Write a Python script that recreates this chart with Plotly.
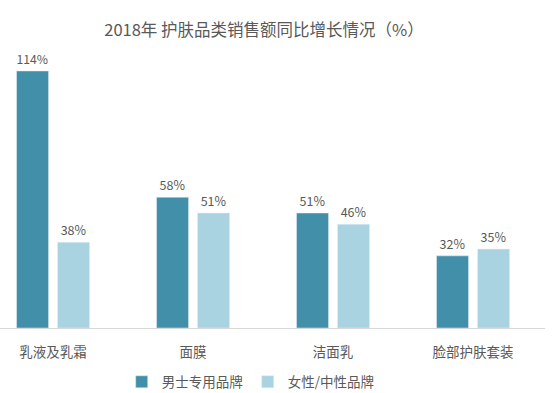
import plotly.graph_objects as go

categories = ["乳液及乳霜", "面膜", "洁面乳", "脸部护肤套装"]
male_values = [114, 58, 51, 32]
female_values = [38, 51, 46, 35]
series_names = ["男士专用品牌", "女性/中性品牌"]

FONT = "Noto Sans CJK SC, Microsoft YaHei, sans-serif"
GRAY = "#595959"
DARK = "#428FAA"
LIGHT = "#A9D3E1"

x = list(range(len(categories)))

fig = go.Figure()
fig.add_trace(go.Bar(
    x=x, y=male_values, name=series_names[0], marker_color=DARK,
    text=[f"{v}%" for v in male_values], textposition="outside",
    textfont=dict(size=12.5, color=GRAY, family=FONT), cliponaxis=False,
))
fig.add_trace(go.Bar(
    x=x, y=female_values, name=series_names[1], marker_color=LIGHT,
    text=[f"{v}%" for v in female_values], textposition="outside",
    textfont=dict(size=12.5, color=GRAY, family=FONT), cliponaxis=False,
))

fig.update_layout(
    width=554, height=393,
    margin=dict(l=0, r=9, t=50, b=65, autoexpand=False),
    paper_bgcolor="white", plot_bgcolor="white",
    barmode="group", bargap=0.414, bargroupgap=0.22,
    font=dict(family=FONT, color=GRAY),
    title=dict(text="2018年 护肤品类销售额同比增长情况（%）", x=264 / 554, xanchor="center",
               y=1 - 30 / 393, yanchor="middle", font=dict(size=16.5, color=GRAY, family=FONT)),
    showlegend=True,
    legend=dict(orientation="h", x=0.46, xanchor="center", yref="container",
                y=11 / 393, yanchor="middle",
                font=dict(size=13.5, color=GRAY, family=FONT), itemwidth=30,
                traceorder="normal"),
    xaxis=dict(range=[-0.379, 3.514], tickmode="array", tickvals=x, ticktext=categories,
               showline=True, linecolor="#D9D9D9", linewidth=1, showgrid=False,
               ticks="", ticklabelstandoff=12, tickfont=dict(size=13.5, color=GRAY, family=FONT),
               zeroline=False, automargin=False),
    yaxis=dict(range=[0, 123.3], visible=False, showgrid=False, zeroline=False,
               automargin=False),
)

fig.write_html("out.html", config={"displayModeBar": False},
               post_script="document.body.style.margin='0';document.body.style.overflow='hidden';")
